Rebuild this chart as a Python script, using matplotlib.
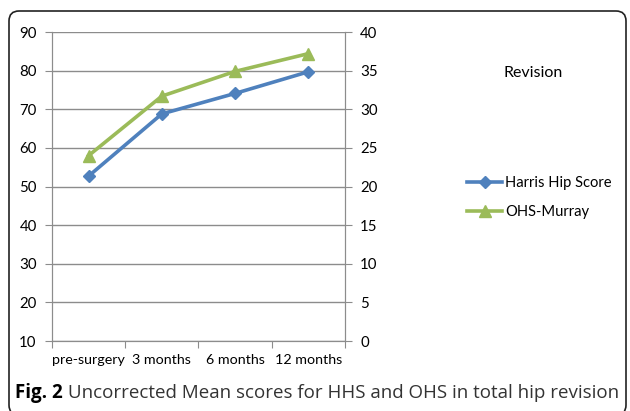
import matplotlib
matplotlib.use("Agg")
import matplotlib.pyplot as plt
from matplotlib.patches import FancyBboxPatch
from matplotlib.transforms import IdentityTransform, offset_copy

plt.rcParams['font.family'] = ['Lato', 'DejaVu Sans']

categories = ['pre-surgery', '3 months', '6 months', '12 months']
harris = [52.7, 68.8, 74.1, 79.7]
ohs = [24.0, 31.7, 34.9, 37.2]
left_ticks = [10, 20, 30, 40, 50, 60, 70, 80, 90]
right_ticks = [0, 5, 10, 15, 20, 25, 30, 35, 40]

blue = '#4F81BD'
green = '#9BBB59'
grey = '#8C8C8C'

fig = plt.figure(figsize=(6.3, 4.11), dpi=100)
ax = fig.add_axes([0.0825, 0.1703, 0.465, 0.7518])
ax2 = ax.twinx()

x = list(range(len(categories)))
l1, = ax.plot(x, harris, color=blue, lw=2.6, marker='D', ms=6.5,
              label='Harris Hip Score', zorder=3)
l2, = ax2.plot(x, ohs, color=green, lw=2.6, marker='^', ms=8,
               label='OHS-Murray', zorder=3)

ax.set_ylim(10, 90)
ax.set_yticks(left_ticks)
ax2.set_ylim(0, 40)
ax2.set_yticks(right_ticks)
ax.set_xlim(-0.5, 3.5)
ax.set_xticks([-0.5, 0.5, 1.5, 2.5, 3.5])
ax.set_xticklabels([])
ax.set_xticks(x, minor=True)
ax.set_xticklabels(categories, minor=True)
ax.tick_params(axis='x', which='minor', length=0, pad=9, labelsize=10.3)
ax.tick_params(axis='x', which='major', length=5, color=grey)
ax.tick_params(axis='y', length=5, color=grey, labelsize=10.8, pad=6)
ax2.tick_params(axis='y', length=5, color=grey, labelsize=10.8, pad=6)

ax.grid(axis='y', color=grey, lw=1)
ax.set_axisbelow(True)
for a in (ax, ax2):
    a.spines['top'].set_visible(False)
    for s in ('left', 'right', 'bottom'):
        a.spines[s].set_color(grey)

fig.text(0.846, 0.822, 'Revision', fontsize=11.5, ha='center', va='center')
fig.legend(handles=[l1, l2], loc='center left', bbox_to_anchor=(0.732, 0.519),
           frameon=False, fontsize=10.6, handlelength=2.4, handletextpad=0.2,
           labelspacing=1.05, borderaxespad=0)

# caption: bold label then regular text right after it
cap_font = ['Open Sans', 'DejaVu Sans']
t1 = fig.text(0.024, 0.045, 'Fig. 2', fontsize=13.5, fontweight='bold',
              family=cap_font, va='center')
fig.canvas.draw()
w = t1.get_window_extent().width
fig.text(0.024, 0.045, ' Uncorrected Mean scores for HHS and OHS in total hip revision',
         fontsize=13.5, family=cap_font, va='center', color='#333333',
         transform=offset_copy(fig.transFigure, fig=fig, x=w * 72 / fig.dpi, units='points'))

box = FancyBboxPatch((9, -4), 617, 404, boxstyle='round,pad=0,rounding_size=10',
                     transform=IdentityTransform(), fill=False, ec='#222222', lw=1.2)
fig.patches.append(box)

fig.savefig('out.png', dpi=100)
